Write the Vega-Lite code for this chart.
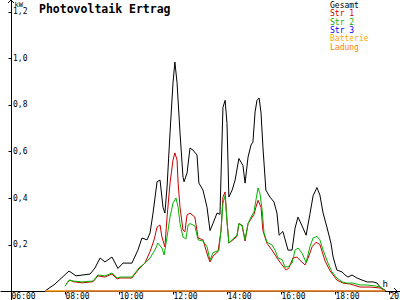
{
  "$schema": "https://vega.github.io/schema/vega-lite/v6.json",
  "width": 400,
  "height": 300,
  "autosize": "none",
  "padding": 0,
  "background": "white",
  "config": {"view": {"stroke": null}},
  "title": {"text": "Photovoltaik Ertrag", "anchor": "start", "frame": "group", "offset": -17, "dx": 39, "font": "DejaVu Sans Mono", "fontWeight": "bold", "fontSize": 11.5, "color": "black"},
  "layer": [
    {
      "data": {"values": [
        {"t":7.26,"s":"Gesamt","v":0},{"t":7.63,"s":"Gesamt","v":0.03},{"t":8.15,"s":"Gesamt","v":0.086},{"t":8.41,"s":"Gesamt","v":0.065},{"t":8.93,"s":"Gesamt","v":0.073},{"t":9.11,"s":"Gesamt","v":0.099},{"t":9.30,"s":"Gesamt","v":0.142},{"t":9.48,"s":"Gesamt","v":0.125},{"t":9.74,"s":"Gesamt","v":0.146},{"t":9.96,"s":"Gesamt","v":0.097},{"t":10.15,"s":"Gesamt","v":0.12},{"t":10.48,"s":"Gesamt","v":0.12},{"t":10.70,"s":"Gesamt","v":0.176},{"t":10.85,"s":"Gesamt","v":0.228},{"t":11.04,"s":"Gesamt","v":0.22},{"t":11.15,"s":"Gesamt","v":0.25},{"t":11.26,"s":"Gesamt","v":0.335},{"t":11.41,"s":"Gesamt","v":0.47},{"t":11.52,"s":"Gesamt","v":0.477},{"t":11.63,"s":"Gesamt","v":0.36},{"t":11.70,"s":"Gesamt","v":0.335},{"t":11.78,"s":"Gesamt","v":0.447},{"t":11.89,"s":"Gesamt","v":0.68},{"t":12.00,"s":"Gesamt","v":0.895},{"t":12.07,"s":"Gesamt","v":0.985},{"t":12.15,"s":"Gesamt","v":0.895},{"t":12.26,"s":"Gesamt","v":0.68},{"t":12.37,"s":"Gesamt","v":0.49},{"t":12.41,"s":"Gesamt","v":0.47},{"t":12.52,"s":"Gesamt","v":0.507},{"t":12.63,"s":"Gesamt","v":0.615},{"t":12.74,"s":"Gesamt","v":0.606},{"t":12.89,"s":"Gesamt","v":0.585},{"t":12.96,"s":"Gesamt","v":0.464},{"t":13.11,"s":"Gesamt","v":0.434},{"t":13.26,"s":"Gesamt","v":0.36},{"t":13.37,"s":"Gesamt","v":0.26},{"t":13.48,"s":"Gesamt","v":0.29},{"t":13.63,"s":"Gesamt","v":0.335},{"t":13.74,"s":"Gesamt","v":0.33},{"t":13.78,"s":"Gesamt","v":0.5},{"t":13.85,"s":"Gesamt","v":0.79},{"t":13.93,"s":"Gesamt","v":0.82},{"t":14.00,"s":"Gesamt","v":0.72},{"t":14.07,"s":"Gesamt","v":0.404},{"t":14.19,"s":"Gesamt","v":0.434},{"t":14.30,"s":"Gesamt","v":0.477},{"t":14.44,"s":"Gesamt","v":0.57},{"t":14.59,"s":"Gesamt","v":0.54},{"t":14.67,"s":"Gesamt","v":0.464},{"t":14.78,"s":"Gesamt","v":0.576},{"t":14.89,"s":"Gesamt","v":0.628},{"t":14.96,"s":"Gesamt","v":0.64},{"t":15.04,"s":"Gesamt","v":0.77},{"t":15.11,"s":"Gesamt","v":0.82},{"t":15.19,"s":"Gesamt","v":0.83},{"t":15.26,"s":"Gesamt","v":0.766},{"t":15.33,"s":"Gesamt","v":0.62},{"t":15.44,"s":"Gesamt","v":0.434},{"t":15.59,"s":"Gesamt","v":0.404},{"t":15.74,"s":"Gesamt","v":0.383},{"t":15.85,"s":"Gesamt","v":0.335},{"t":15.93,"s":"Gesamt","v":0.24},{"t":16.07,"s":"Gesamt","v":0.256},{"t":16.19,"s":"Gesamt","v":0.206},{"t":16.26,"s":"Gesamt","v":0.176},{"t":16.41,"s":"Gesamt","v":0.176},{"t":16.52,"s":"Gesamt","v":0.27},{"t":16.63,"s":"Gesamt","v":0.318},{"t":16.78,"s":"Gesamt","v":0.28},{"t":16.93,"s":"Gesamt","v":0.24},{"t":17.07,"s":"Gesamt","v":0.33},{"t":17.19,"s":"Gesamt","v":0.41},{"t":17.33,"s":"Gesamt","v":0.445},{"t":17.44,"s":"Gesamt","v":0.413},{"t":17.56,"s":"Gesamt","v":0.335},{"t":17.70,"s":"Gesamt","v":0.275},{"t":17.85,"s":"Gesamt","v":0.206},{"t":17.93,"s":"Gesamt","v":0.146},{"t":18.07,"s":"Gesamt","v":0.09},{"t":18.26,"s":"Gesamt","v":0.082},{"t":18.37,"s":"Gesamt","v":0.069},{"t":18.48,"s":"Gesamt","v":0.06},{"t":18.63,"s":"Gesamt","v":0.069},{"t":18.81,"s":"Gesamt","v":0.056},{"t":19.00,"s":"Gesamt","v":0.047},{"t":19.19,"s":"Gesamt","v":0.039},{"t":19.41,"s":"Gesamt","v":0.039},{"t":19.56,"s":"Gesamt","v":0.034},{"t":19.67,"s":"Gesamt","v":0.017},{"t":19.89,"s":"Gesamt","v":0},
        {"t":8.04,"s":"Str 1","v":0.03},{"t":8.19,"s":"Str 1","v":0.047},{"t":8.30,"s":"Str 1","v":0.04},{"t":8.63,"s":"Str 1","v":0.035},{"t":9.04,"s":"Str 1","v":0.04},{"t":9.22,"s":"Str 1","v":0.065},{"t":9.48,"s":"Str 1","v":0.06},{"t":9.74,"s":"Str 1","v":0.073},{"t":9.93,"s":"Str 1","v":0.052},{"t":10.04,"s":"Str 1","v":0.056},{"t":10.48,"s":"Str 1","v":0.056},{"t":10.59,"s":"Str 1","v":0.073},{"t":10.74,"s":"Str 1","v":0.095},{"t":10.96,"s":"Str 1","v":0.12},{"t":11.15,"s":"Str 1","v":0.17},{"t":11.30,"s":"Str 1","v":0.22},{"t":11.41,"s":"Str 1","v":0.275},{"t":11.52,"s":"Str 1","v":0.284},{"t":11.59,"s":"Str 1","v":0.232},{"t":11.70,"s":"Str 1","v":0.19},{"t":11.78,"s":"Str 1","v":0.318},{"t":11.89,"s":"Str 1","v":0.464},{"t":12.00,"s":"Str 1","v":0.563},{"t":12.07,"s":"Str 1","v":0.594},{"t":12.15,"s":"Str 1","v":0.563},{"t":12.19,"s":"Str 1","v":0.464},{"t":12.26,"s":"Str 1","v":0.36},{"t":12.37,"s":"Str 1","v":0.262},{"t":12.44,"s":"Str 1","v":0.254},{"t":12.52,"s":"Str 1","v":0.327},{"t":12.63,"s":"Str 1","v":0.335},{"t":12.81,"s":"Str 1","v":0.318},{"t":12.93,"s":"Str 1","v":0.228},{"t":13.11,"s":"Str 1","v":0.22},{"t":13.30,"s":"Str 1","v":0.146},{"t":13.37,"s":"Str 1","v":0.125},{"t":13.48,"s":"Str 1","v":0.15},{"t":13.67,"s":"Str 1","v":0.17},{"t":13.78,"s":"Str 1","v":0.262},{"t":13.85,"s":"Str 1","v":0.404},{"t":13.93,"s":"Str 1","v":0.426},{"t":14.00,"s":"Str 1","v":0.3},{"t":14.07,"s":"Str 1","v":0.206},{"t":14.22,"s":"Str 1","v":0.22},{"t":14.37,"s":"Str 1","v":0.235},{"t":14.44,"s":"Str 1","v":0.29},{"t":14.56,"s":"Str 1","v":0.28},{"t":14.67,"s":"Str 1","v":0.215},{"t":14.78,"s":"Str 1","v":0.29},{"t":14.89,"s":"Str 1","v":0.31},{"t":15.00,"s":"Str 1","v":0.33},{"t":15.07,"s":"Str 1","v":0.36},{"t":15.15,"s":"Str 1","v":0.39},{"t":15.26,"s":"Str 1","v":0.36},{"t":15.33,"s":"Str 1","v":0.26},{"t":15.48,"s":"Str 1","v":0.205},{"t":15.67,"s":"Str 1","v":0.176},{"t":15.85,"s":"Str 1","v":0.142},{"t":16.04,"s":"Str 1","v":0.112},{"t":16.19,"s":"Str 1","v":0.09},{"t":16.30,"s":"Str 1","v":0.1},{"t":16.44,"s":"Str 1","v":0.142},{"t":16.59,"s":"Str 1","v":0.146},{"t":16.70,"s":"Str 1","v":0.133},{"t":16.89,"s":"Str 1","v":0.112},{"t":17.00,"s":"Str 1","v":0.14},{"t":17.15,"s":"Str 1","v":0.19},{"t":17.30,"s":"Str 1","v":0.21},{"t":17.44,"s":"Str 1","v":0.2},{"t":17.63,"s":"Str 1","v":0.13},{"t":17.81,"s":"Str 1","v":0.088},{"t":18.07,"s":"Str 1","v":0.047},{"t":18.30,"s":"Str 1","v":0.034},{"t":18.56,"s":"Str 1","v":0.03},{"t":18.93,"s":"Str 1","v":0.017},{"t":19.30,"s":"Str 1","v":0.017},{"t":19.67,"s":"Str 1","v":0.013},{"t":19.89,"s":"Str 1","v":0},
        {"t":8.00,"s":"Str 2","v":0.02},{"t":8.15,"s":"Str 2","v":0.047},{"t":8.30,"s":"Str 2","v":0.043},{"t":8.63,"s":"Str 2","v":0.039},{"t":9.04,"s":"Str 2","v":0.043},{"t":9.22,"s":"Str 2","v":0.069},{"t":9.48,"s":"Str 2","v":0.065},{"t":9.74,"s":"Str 2","v":0.077},{"t":9.93,"s":"Str 2","v":0.056},{"t":10.04,"s":"Str 2","v":0.06},{"t":10.48,"s":"Str 2","v":0.06},{"t":10.59,"s":"Str 2","v":0.077},{"t":10.74,"s":"Str 2","v":0.099},{"t":10.96,"s":"Str 2","v":0.12},{"t":11.15,"s":"Str 2","v":0.142},{"t":11.33,"s":"Str 2","v":0.176},{"t":11.44,"s":"Str 2","v":0.206},{"t":11.59,"s":"Str 2","v":0.185},{"t":11.67,"s":"Str 2","v":0.155},{"t":11.78,"s":"Str 2","v":0.232},{"t":11.89,"s":"Str 2","v":0.318},{"t":12.00,"s":"Str 2","v":0.378},{"t":12.11,"s":"Str 2","v":0.4},{"t":12.19,"s":"Str 2","v":0.36},{"t":12.26,"s":"Str 2","v":0.29},{"t":12.37,"s":"Str 2","v":0.232},{"t":12.48,"s":"Str 2","v":0.224},{"t":12.56,"s":"Str 2","v":0.284},{"t":12.63,"s":"Str 2","v":0.29},{"t":12.81,"s":"Str 2","v":0.28},{"t":12.93,"s":"Str 2","v":0.22},{"t":13.11,"s":"Str 2","v":0.215},{"t":13.26,"s":"Str 2","v":0.19},{"t":13.37,"s":"Str 2","v":0.133},{"t":13.48,"s":"Str 2","v":0.165},{"t":13.70,"s":"Str 2","v":0.174},{"t":13.78,"s":"Str 2","v":0.262},{"t":13.85,"s":"Str 2","v":0.378},{"t":13.93,"s":"Str 2","v":0.41},{"t":14.00,"s":"Str 2","v":0.3},{"t":14.07,"s":"Str 2","v":0.206},{"t":14.22,"s":"Str 2","v":0.225},{"t":14.37,"s":"Str 2","v":0.24},{"t":14.44,"s":"Str 2","v":0.29},{"t":14.56,"s":"Str 2","v":0.284},{"t":14.67,"s":"Str 2","v":0.22},{"t":14.78,"s":"Str 2","v":0.29},{"t":14.89,"s":"Str 2","v":0.318},{"t":15.00,"s":"Str 2","v":0.34},{"t":15.07,"s":"Str 2","v":0.39},{"t":15.15,"s":"Str 2","v":0.443},{"t":15.22,"s":"Str 2","v":0.42},{"t":15.30,"s":"Str 2","v":0.35},{"t":15.37,"s":"Str 2","v":0.25},{"t":15.48,"s":"Str 2","v":0.21},{"t":15.67,"s":"Str 2","v":0.198},{"t":15.78,"s":"Str 2","v":0.176},{"t":15.89,"s":"Str 2","v":0.142},{"t":16.04,"s":"Str 2","v":0.135},{"t":16.15,"s":"Str 2","v":0.103},{"t":16.26,"s":"Str 2","v":0.105},{"t":16.41,"s":"Str 2","v":0.12},{"t":16.52,"s":"Str 2","v":0.176},{"t":16.63,"s":"Str 2","v":0.185},{"t":16.78,"s":"Str 2","v":0.163},{"t":16.93,"s":"Str 2","v":0.122},{"t":17.07,"s":"Str 2","v":0.19},{"t":17.19,"s":"Str 2","v":0.228},{"t":17.33,"s":"Str 2","v":0.235},{"t":17.44,"s":"Str 2","v":0.22},{"t":17.56,"s":"Str 2","v":0.176},{"t":17.74,"s":"Str 2","v":0.12},{"t":17.89,"s":"Str 2","v":0.082},{"t":18.07,"s":"Str 2","v":0.056},{"t":18.26,"s":"Str 2","v":0.039},{"t":18.44,"s":"Str 2","v":0.034},{"t":18.67,"s":"Str 2","v":0.034},{"t":18.93,"s":"Str 2","v":0.026},{"t":19.19,"s":"Str 2","v":0.026},{"t":19.48,"s":"Str 2","v":0.022},{"t":19.67,"s":"Str 2","v":0.017},{"t":19.89,"s":"Str 2","v":0},
        {"t":8.04,"s":"Str 3","v":0},{"t":19.85,"s":"Str 3","v":0},
        {"t":7.26,"s":"Batterie","v":0},{"t":19.85,"s":"Batterie","v":0},
        {"t":7.26,"s":"Ladung","v":0},{"t":19.85,"s":"Ladung","v":0}
      ]},
      "mark": {"type": "line", "strokeWidth": 1, "interpolate": "linear"},
      "encoding": {
        "x": {"field": "t", "type": "quantitative",
          "scale": {"domain": [5.5926, 20.4074], "nice": false, "zero": false},
          "axis": {"orient": "bottom", "offset": -9, "values": [6, 8, 10, 12, 14, 16, 18, 20],
            "labelExpr": "(datum.value < 10 ? '0' : '') + datum.value + ':00'",
            "labelAlign": "left", "labelBaseline": "top", "labelPadding": -2, "labelFlush": false, "labelOverlap": false, "labelBound": false,
            "labelFont": "DejaVu Sans Mono", "labelFontSize": 8, "labelColor": "black",
            "tickSize": 3, "tickColor": "black", "domainColor": "black", "grid": false,
            "title": "h", "titleFont": "DejaVu Sans Mono", "titleFontSize": 9, "titleFontWeight": "normal", "titleColor": "black",
            "titleAlign": "left", "titleBaseline": "alphabetic", "titleX": 382, "titleY": -5}},
        "y": {"field": "v", "type": "quantitative",
          "scale": {"domain": [-0.0387, 1.2516], "nice": false, "zero": false},
          "axis": {"orient": "left", "offset": -11, "values": [0.2, 0.4, 0.6, 0.8, 1.0, 1.2],
            "labelExpr": "replace(format(datum.value, '.1f'), '.', ',')",
            "labelAlign": "left", "labelBaseline": "middle", "labelPadding": -4.5, "labelFlush": false, "labelOverlap": false, "labelBound": false,
            "labelFont": "DejaVu Sans Mono", "labelFontSize": 8, "labelColor": "black",
            "tickSize": 3, "tickColor": "black", "domainColor": "black", "grid": false,
            "title": "kW", "titleFont": "DejaVu Sans Mono", "titleFontSize": 7, "titleFontWeight": "normal", "titleColor": "black",
            "titleAngle": 0, "titleAlign": "left", "titleBaseline": "top", "titleX": 3, "titleY": 0}},
        "color": {"field": "s", "type": "nominal",
          "scale": {"domain": ["Gesamt", "Str 1", "Str 2", "Str 3", "Batterie", "Ladung"],
                    "range": ["#000000", "#c80000", "#00b400", "#0000ff", "#ffaa00", "#ff8000"]},
          "legend": {"orient": "none", "legendX": 322, "legendY": 2, "title": null, "padding": 0,
            "symbolOpacity": 0, "symbolSize": 1, "symbolStrokeWidth": 0, "labelOffset": 0, "rowPadding": 0.3,
            "labelFont": "DejaVu Sans Mono", "labelFontSize": 8, "labelLimit": 0,
            "encode": {"labels": {"update": {"fill": {"scale": "color", "field": "value"}}}}}},
        "order": {"value": 0}
      }
    },
    {
      "data": {"values": [{}]},
      "mark": {"type": "point", "shape": "M-1,1L0,0L1,1", "filled": false, "stroke": "black", "strokeWidth": 1, "size": 36, "opacity": 1},
      "encoding": {"x": {"datum": 6}, "y": {"datum": 1.2516}}
    },
    {
      "data": {"values": [{}]},
      "mark": {"type": "point", "shape": "M-1,-1L0,0L-1,1", "filled": false, "stroke": "black", "strokeWidth": 1, "size": 36, "opacity": 1},
      "encoding": {"x": {"datum": 20.296}, "y": {"datum": 0}}
    }
  ]
}
